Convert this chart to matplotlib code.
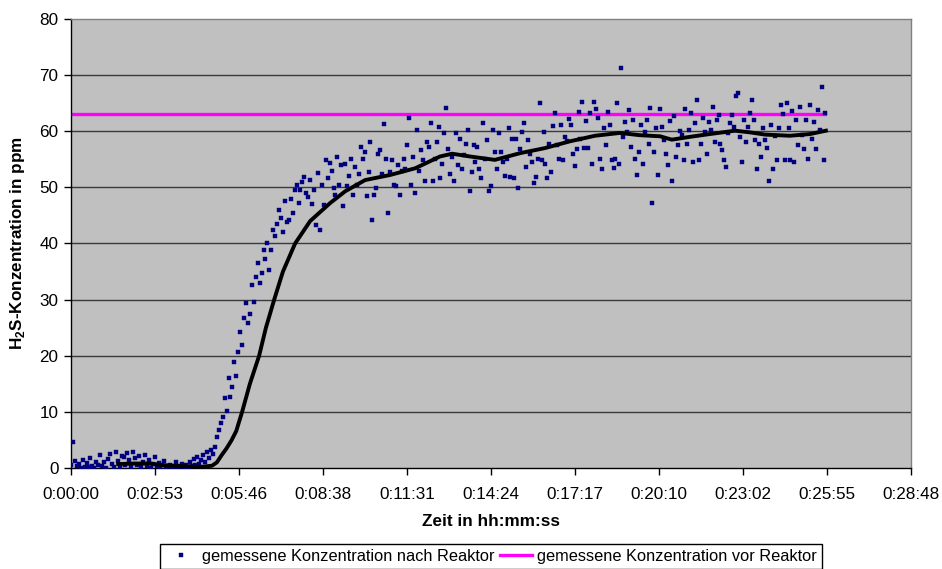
import numpy as np
import matplotlib
matplotlib.use("Agg")
import matplotlib.pyplot as plt
from matplotlib.lines import Line2D

plt.rcParams['font.family'] = ['Liberation Sans', 'DejaVu Sans']
plt.rcParams['mathtext.fontset'] = 'custom'
plt.rcParams['mathtext.rm'] = 'Liberation Sans'
plt.rcParams['mathtext.bf'] = 'Liberation Sans:bold'

# ---------------- data ----------------
SAMPLE_S = 4  # measurement interval in seconds

# measured concentration after reactor (ppm), one value every SAMPLE_S seconds from 0 s
nach_reaktor = [
    0.5, 4.6, 1.2, 0.3, 0.8, 0.0, 1.5, 0.2, 0.9, 0.1, 1.8, 0.4, 0.0, 1.1, 0.6,
    2.3, 0.3, 1.0, 0.0, 1.6, 2.5, 0.8, 0.2, 2.8, 1.3, 0.1, 2.1, 1.9, 0.5, 2.6,
    1.4, 0.2, 2.9, 1.7, 0.6, 2.2, 0.1, 1.0, 2.4, 0.3, 1.5, 0.0, 0.7, 2.0, 0.4,
    0.9, 0.1, 0.5, 1.2, 0.0, 0.3, 0.6, 0.0, 0.2, 1.1, 0.0, 0.4, 0.8, 0.1, 0.5,
    0.2, 1.0, 0.3, 1.6, 0.5, 2.0, 0.8, 1.5, 2.4, 1.1, 2.8, 1.8, 3.2, 2.5, 3.8,
    5.5, 6.8, 8.1, 9.1, 12.5, 10.2, 16.0, 12.7, 14.4, 18.9, 16.4, 20.7, 24.3, 21.9, 26.7,
    29.4, 25.8, 27.5, 32.6, 29.6, 34.1, 36.5, 33.0, 34.7, 38.9, 37.2, 40.1, 35.3, 38.9, 42.4,
    41.3, 43.5, 46.0, 44.6, 42.0, 47.5, 43.8, 44.2, 48.0, 45.5, 49.6, 50.4, 47.2, 49.5, 51.0,
    51.9, 49.0, 48.2, 51.3, 47.0, 49.6, 43.3, 52.5, 42.4, 50.5, 46.8, 54.8, 51.7, 54.4, 52.9,
    49.9, 48.7, 55.4, 50.5, 53.9, 46.6, 54.2, 50.2, 52.0, 55.1, 48.7, 53.6, 50.5, 52.3, 57.2,
    55.1, 56.3, 48.4, 52.7, 58.1, 44.2, 48.7, 49.9, 56.0, 56.6, 52.4, 61.3, 55.1, 45.5, 52.7,
    54.8, 50.5, 50.2, 53.9, 48.7, 52.9, 55.1, 53.3, 57.5, 62.3, 50.5, 55.4, 49.0, 60.2, 52.9,
    56.6, 54.8, 51.1, 58.1, 57.2, 61.4, 51.1, 55.1, 58.1, 60.8, 51.7, 54.2, 59.6, 64.1, 56.9,
    52.4, 55.4, 51.1, 59.6, 53.9, 58.7, 53.3, 55.7, 57.8, 60.2, 49.3, 52.7, 57.5, 54.5, 57.2,
    53.3, 51.7, 61.4, 55.1, 58.4, 49.3, 50.2, 60.2, 56.3, 53.3, 59.6, 56.3, 54.5, 52.0, 55.0,
    60.5, 51.9, 58.7, 51.6, 58.7, 49.8, 56.9, 59.9, 61.4, 53.7, 58.4, 56.0, 54.5, 50.7, 51.9,
    55.1, 65.0, 54.8, 59.9, 54.1, 51.6, 57.8, 52.8, 61.0, 63.2, 57.5, 55.1, 61.1, 54.8, 59.0,
    58.3, 62.2, 61.1, 56.0, 53.8, 56.8, 63.5, 58.7, 65.3, 57.1, 61.8, 57.0, 63.2, 54.2, 65.3,
    63.9, 62.4, 55.1, 53.3, 60.5, 57.5, 63.5, 61.1, 54.8, 53.5, 55.1, 65.0, 54.2, 71.2, 59.0,
    61.7, 59.9, 63.8, 57.2, 62.0, 55.1, 52.2, 56.3, 61.1, 54.2, 59.9, 62.0, 57.8, 64.1, 47.2,
    56.3, 60.5, 52.2, 64.0, 60.7, 58.4, 56.0, 54.0, 61.8, 51.2, 62.8, 55.4, 57.5, 60.0, 59.3,
    54.8, 64.0, 57.8, 60.2, 63.2, 54.5, 61.4, 65.5, 54.8, 57.8, 62.3, 59.9, 56.0, 61.7, 60.2,
    64.4, 58.1, 62.0, 62.9, 57.8, 56.6, 54.8, 53.6, 59.7, 61.4, 62.9, 60.8, 66.2, 66.9, 59.0,
    54.5, 62.0, 58.1, 60.8, 63.3, 65.5, 62.0, 58.4, 53.3, 57.8, 55.4, 60.5, 58.4, 57.1, 51.2,
    61.1, 53.3, 59.1, 54.8, 60.5, 64.7, 63.0, 54.8, 65.1, 60.5, 54.8, 63.6, 54.5, 62.0, 57.5,
    64.4, 59.3, 56.8, 62.0, 55.1, 64.7, 58.7, 61.7, 56.8, 63.8, 60.2, 67.9, 54.8, 63.2,
]

# smoothed curve (black)
glatt_t = [97, 130, 162, 190, 215, 240, 265, 290, 300, 310, 320, 330, 340, 352, 368,
           387, 401, 418, 436, 461, 492, 533, 564, 605, 656, 708, 759, 784, 821, 872,
           924, 975, 1026, 1078, 1129, 1170, 1212, 1236, 1273, 1314, 1366, 1397, 1428,
           1479, 1520, 1553]
glatt_v = [0.7, 0.8, 0.8, 0.5, 0.4, 0.3, 0.2, 0.4, 1.0, 2.3, 3.5, 4.9, 6.6, 10.0, 15.0,
           20.0, 25.0, 30.0, 35.0, 40.0, 44.0, 47.2, 49.3, 51.3, 52.2, 53.4, 55.5, 56.0, 55.5, 54.9,
           56.1, 57.0, 58.2, 59.2, 59.7, 59.3, 59.1, 58.5, 59.0, 59.5, 60.1, 59.8, 59.4,
           59.2, 59.5, 60.1]

# measured concentration before reactor (ppm)
vor_reaktor = 63.0

x_tick_labels = ["0:00:00", "0:02:53", "0:05:46", "0:08:38", "0:11:31", "0:14:24",
                 "0:17:17", "0:20:10", "0:23:02", "0:25:55", "0:28:48"]
x_tick_step_s = 172.8
y_ticks = [0, 10, 20, 30, 40, 50, 60, 70, 80]

FS = 12.3
FS_LEG = 11.8

# ---------------- plot ----------------
t_nach = np.arange(len(nach_reaktor)) * SAMPLE_S
t_end = t_nach[-1]

fig = plt.figure(figsize=(9.42, 5.69), dpi=100)
ax = fig.add_axes([71/942, 1-468/569, (911-71)/942, (468-19)/569])
ax.set_facecolor('#C0C0C0')

xt = np.arange(len(x_tick_labels)) * x_tick_step_s
ax.set_xlim(xt[0], xt[-1])
ax.set_ylim(0, 80)

for y in y_ticks[1:-1]:
    ax.axhline(y, color='#3a3a3a', lw=1.0, zorder=1)

rect = [(-2, -1.4), (2, -1.4), (2, 1.4), (-2, 1.4), (-2, -1.4)]
ax.plot(t_nach, nach_reaktor, linestyle='none', marker=rect, markersize=3.4,
        color='#000080', mec='#000080', mew=0.3, zorder=3,
        label='gemessene Konzentration nach Reaktor')
ax.plot(glatt_t, glatt_v, color='black', lw=2.8, zorder=4)
ax.plot([0, t_end], [vor_reaktor, vor_reaktor], color='#FF00FF', lw=2.4, zorder=2,
        label='gemessene Konzentration vor Reaktor')

ax.set_xticks(xt)
ax.set_xticklabels(x_tick_labels, fontsize=FS)
ax.set_yticks(y_ticks)
ax.set_yticklabels([str(v) for v in y_ticks], fontsize=FS)
ax.tick_params(axis='both', direction='out', length=5, width=1, color='black')
ax.tick_params(axis='x', pad=9)
ax.tick_params(axis='y', pad=4)

for s in ['left', 'bottom']:
    ax.spines[s].set_color('black')
    ax.spines[s].set_linewidth(1)
for s in ['top', 'right']:
    ax.spines[s].set_color('#808080')
    ax.spines[s].set_linewidth(1)

ax.set_xlabel('Zeit in hh:mm:ss', fontsize=FS, fontweight='bold', labelpad=8)
ax.set_ylabel(r'H$_\mathbf{2}$S-Konzentration in ppm', fontsize=FS,
              fontweight='bold', labelpad=9)

handles = [Line2D([], [], linestyle='none', marker=rect, markersize=3.4,
                  color='#000080', mew=0.3),
           Line2D([], [], color='#FF00FF', lw=2.4)]
labels = ['gemessene Konzentration nach Reaktor', 'gemessene Konzentration vor Reaktor']
leg = fig.legend(handles, labels, loc='upper center', bbox_to_anchor=(0.521, 1-544/569),
                 ncol=2, fontsize=FS_LEG, frameon=True, fancybox=False, edgecolor='black',
                 framealpha=1, borderpad=0.3, handlelength=2.0, handletextpad=0.3,
                 columnspacing=0.3, borderaxespad=0)
leg.get_frame().set_linewidth(1)

fig.savefig('out.png', dpi=100)
